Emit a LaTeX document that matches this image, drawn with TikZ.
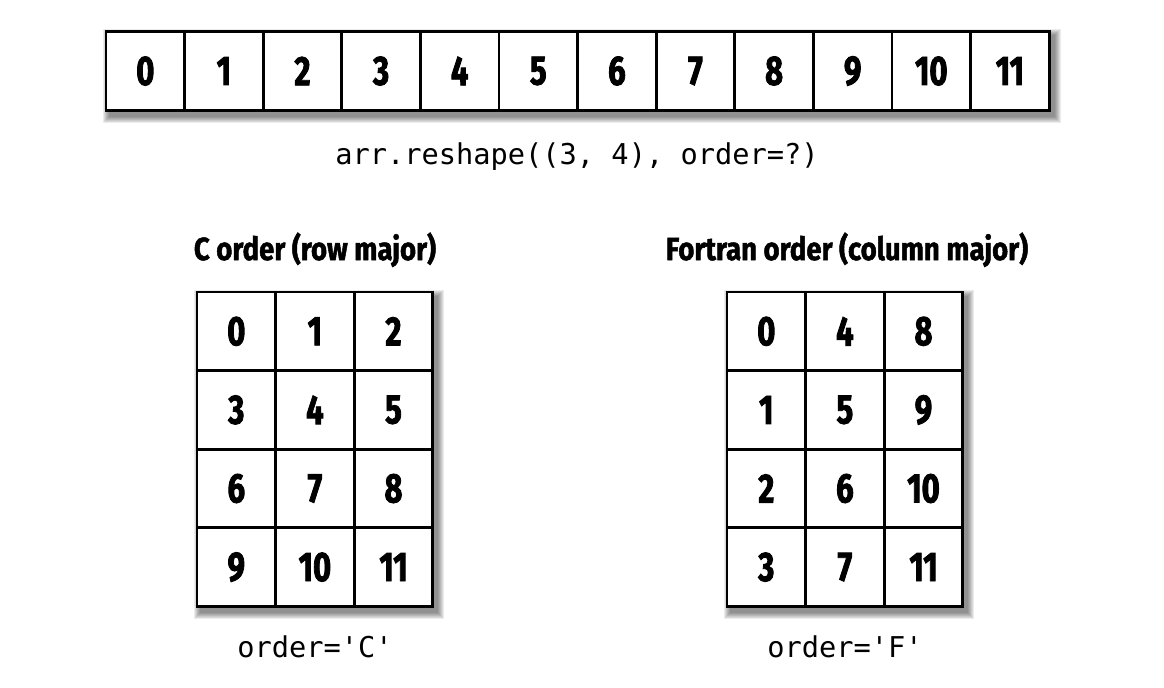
\documentclass[tikz,border=0pt]{standalone}
\usepackage{fontspec}
\newfontfamily\cellfont[FakeStretch=0.75, FakeBold=2]{Fira Sans}
\newfontfamily\headfont[FakeStretch=0.86, FakeBold=1.5]{Fira Sans}
\newfontfamily\codefont[Ligatures=TeXOff]{DejaVu Sans Mono}
\usetikzlibrary{backgrounds}

\tikzset{
  cell/.style={draw, fill=white, line width=2pt, minimum size=58.95pt, inner sep=0pt,
    font=\cellfont\bfseries\fontsize{31}{31}\selectfont},
  heading/.style={inner sep=0pt, font=\headfont\bfseries\fontsize{24}{24}\selectfont},
  code/.style={inner sep=0pt, font=\codefont\fontsize{21.5}{21.5}\selectfont},
  shade/.style={fill=black, opacity=0.08}
}

\begin{document}
\begin{tikzpicture}[x=0.75pt, y=-0.75pt]
\useasboundingbox (0,0) rectangle (1164,687);

% flat array
\foreach \i in {0,...,11}
  \node[cell] (a\i) at ({106+78.6*(\i+0.5)},71) {\i};
\node[code, anchor=base] (call) at (577,164) {arr.reshape((3, 4), order=?)};

% C order
\node[heading, anchor=base] (ctitle) at (315,260) {C order (row major)};
\foreach \r in {0,...,3}
  \foreach \c in {0,...,2} {
    \pgfmathtruncatemacro\v{3*\r+\c}
    \node[cell] (c\r\c) at ({197+78.6*(\c+0.5)},{292+78.6*(\r+0.5)}) {\v};
  }
\node[code, anchor=base] (clabel) at (315,657) {order='C'};

% Fortran order
\node[heading, anchor=base] (ftitle) at (847,260) {Fortran order (column major)};
\foreach \r in {0,...,3}
  \foreach \c in {0,...,2} {
    \pgfmathtruncatemacro\v{\r+4*\c}
    \node[cell] (f\r\c) at ({727+78.6*(\c+0.5)},{292+78.6*(\r+0.5)}) {\v};
  }
\node[code, anchor=base] (flabel) at (845,657) {order='F'};

% soft shadows
\begin{scope}[on background layer]
\foreach \s in {0,...,6} {
  \fill[shade] ([shift={(4-\s,5-\s)}]a0.north west) rectangle ([shift={(4+\s,5+\s)}]a11.south east);
  \fill[shade] ([shift={(4-\s,5-\s)}]c00.north west) rectangle ([shift={(4+\s,5+\s)}]c32.south east);
  \fill[shade] ([shift={(4-\s,5-\s)}]f00.north west) rectangle ([shift={(4+\s,5+\s)}]f32.south east);
}
\end{scope}
\end{tikzpicture}
\end{document}
